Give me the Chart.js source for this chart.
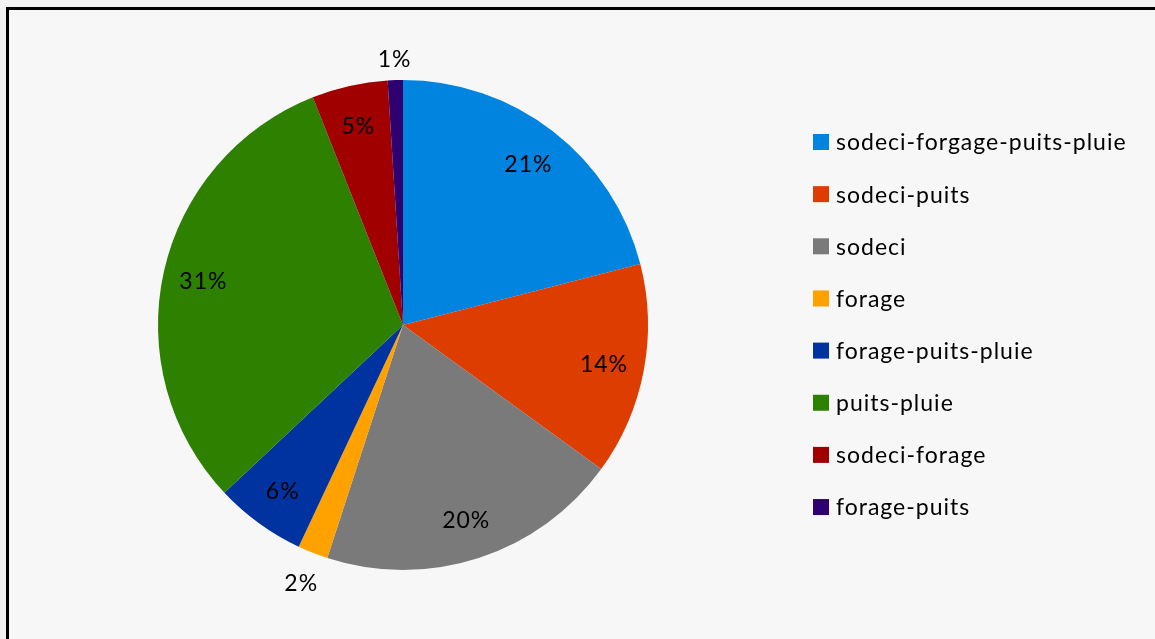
<!DOCTYPE html>
<html>
<head>
<meta charset="utf-8">
<script src="https://cdn.jsdelivr.net/npm/chart.js@4"></script>
<style>
  html, body { margin: 0; padding: 0; background: #f2f2f2; }
  #wrap { width: 1155px; height: 639px; position: relative; }
</style>
</head>
<body>
<div id="wrap"><canvas id="pieChart"></canvas></div>
<script>
// categories and share of each (%)
const categories = [
  'sodeci-forgage-puits-pluie',
  'sodeci-puits',
  'sodeci',
  'forage',
  'forage-puits-pluie',
  'puits-pluie',
  'sodeci-forage',
  'forage-puits'
];
const shares = [21, 14, 20, 2, 6, 31, 5, 1];
const sliceColors = ['#0084e0', '#de3d00', '#7a7a7a', '#ffa200', '#0033a0', '#2e8000', '#a00000', '#2e0070'];

const FONT = '23px Lato, "Open Sans", sans-serif';
const SPACING = '1px';

// frame + background
const framePlugin = {
  id: 'frame',
  beforeDraw(chart) {
    const ctx = chart.ctx;
    ctx.save();
    ctx.fillStyle = '#f2f2f2';
    ctx.fillRect(0, 0, chart.width, chart.height);
    ctx.fillStyle = '#f7f7f7';
    ctx.fillRect(8, 9, chart.width, chart.height);
    ctx.strokeStyle = '#000';
    ctx.lineWidth = 3;
    ctx.beginPath();
    ctx.moveTo(7.5, chart.height + 5);
    ctx.lineTo(7.5, 8.5);
    ctx.lineTo(chart.width + 5, 8.5);
    ctx.stroke();
    ctx.restore();
  }
};

// percent labels: inside the slice, or just outside for thin ones
const labelPlugin = {
  id: 'pctLabels',
  afterDatasetsDraw(chart) {
    const ctx = chart.ctx;
    const meta = chart.getDatasetMeta(0);
    ctx.save();
    ctx.font = FONT;
    ctx.letterSpacing = SPACING;
    ctx.fillStyle = '#000';
    ctx.textAlign = 'center';
    ctx.textBaseline = 'middle';
    meta.data.forEach((arc, i) => {
      const txt = shares[i] + '%';
      const mid = (arc.startAngle + arc.endAngle) / 2;
      let r;
      if (shares[i] < 3) {
        const w = ctx.measureText(txt).width;
        r = arc.outerRadius + 8 + Math.abs(Math.sin(mid)) * 12 + Math.abs(Math.cos(mid)) * w;
      } else {
        r = arc.outerRadius * 0.835;
      }
      ctx.fillText(txt, arc.x + Math.cos(mid) * r, arc.y + Math.sin(mid) * r + 1);
    });
    ctx.restore();
  }
};

// legend on the right
const legendPlugin = {
  id: 'sideLegend',
  afterDraw(chart) {
    const ctx = chart.ctx;
    const x0 = 813, y0 = 142, step = 52.15, box = 16;
    ctx.save();
    ctx.font = FONT;
    ctx.letterSpacing = SPACING;
    ctx.textAlign = 'left';
    ctx.textBaseline = 'middle';
    categories.forEach((name, i) => {
      const y = y0 + i * step;
      ctx.fillStyle = sliceColors[i];
      ctx.fillRect(x0, y - box / 2, box, box);
      ctx.fillStyle = '#000';
      ctx.fillText(name, x0 + 23, y + 1);
    });
    ctx.restore();
  }
};

new Chart(document.getElementById('pieChart'), {
  type: 'pie',
  plugins: [framePlugin, labelPlugin, legendPlugin],
  data: {
    labels: categories,
    datasets: [{
      data: shares,
      backgroundColor: sliceColors,
      borderWidth: 0
    }]
  },
  options: {
    responsive: true,
    maintainAspectRatio: false,
    animation: false,
    layout: { padding: { left: 158, top: 80, right: 507, bottom: 69 } },
    plugins: {
      legend: { display: false },
      tooltip: { enabled: false }
    }
  }
});
</script>
</body>
</html>
